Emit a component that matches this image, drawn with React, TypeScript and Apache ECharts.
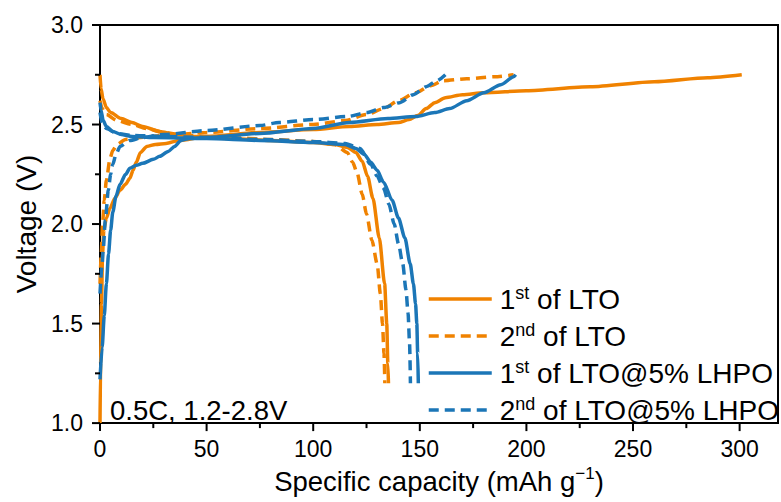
import React, { useEffect, useRef } from "react";
import * as echarts from "echarts";

const FONT = "'Liberation Sans', Arial, sans-serif";
const ORANGE = "#F08200";
const BLUE = "#1B76B7";

const seriesNames = ["1st of LTO", "2nd of LTO", "1st of LTO@5% LHPO", "2nd of LTO@5% LHPO"];
const legendLabels = [
  "1{sup|st} of LTO",
  "2{sup|nd} of LTO",
  "1{sup|st} of LTO@5% LHPO",
  "2{sup|nd} of LTO@5% LHPO",
];

const xMajorTicks = [0, 50, 100, 150, 200, 250, 300];
const xMinorTicks = [25, 75, 125, 175, 225, 275];
const yMajorTicks = [1.0, 1.5, 2.0, 2.5, 3.0];
const yMinorTicks = [1.25, 1.75, 2.25, 2.75];

// 1st cycle LTO
const lto1Discharge = [
  [0, 2.75], [0.5, 2.68], [1.4, 2.63], [3, 2.585], [5, 2.56], [10, 2.53], [15, 2.51], [20, 2.49],
  [28, 2.465], [35, 2.45], [45, 2.44], [60, 2.43], [80, 2.42], [100, 2.41], [110, 2.4], [116, 2.385],
  [120, 2.36], [123, 2.315], [125.5, 2.24], [128, 2.13], [131, 1.93], [133.5, 1.7], [134.5, 1.5],
  [135, 1.3], [135.3, 1.2],
];
const lto1Charge = [
  [0, 1.0], [0.3, 1.3], [0.7, 1.6], [1.2, 1.85], [1.8, 1.97], [3, 2.03], [4.7, 2.08], [7, 2.13],
  [9.4, 2.17], [12, 2.2], [14, 2.23], [15.5, 2.27], [17, 2.31], [19, 2.36], [22, 2.39], [26, 2.4],
  [31, 2.405], [37, 2.42], [50, 2.44], [75, 2.46], [100, 2.475], [117, 2.49], [130, 2.5], [140, 2.51],
  [145, 2.525], [149, 2.545], [153, 2.58], [157, 2.61], [162, 2.635], [170, 2.65], [180, 2.66],
  [200, 2.67], [230, 2.69], [260, 2.715], [285, 2.735], [301, 2.75],
];

// 2nd cycle LTO
const lto2Discharge = [
  [0, 2.62], [1, 2.58], [3, 2.55], [8, 2.52], [15, 2.5], [22, 2.48], [30, 2.46], [40, 2.445],
  [60, 2.435], [80, 2.425], [100, 2.415], [110, 2.4], [116, 2.36], [118.5, 2.31], [120.5, 2.26],
  [123, 2.15], [125, 2.05], [127.5, 1.92], [130, 1.8], [131.5, 1.65], [132.5, 1.5], [133.2, 1.35],
  [133.6, 1.2],
];
const lto2Charge = [
  [0, 1.7], [0.6, 1.85], [1.2, 2.0], [2, 2.12], [3, 2.22], [4.7, 2.33], [6, 2.37], [8, 2.4],
  [12, 2.425], [19, 2.435], [30, 2.445], [50, 2.46], [75, 2.48], [100, 2.5], [115, 2.52], [125, 2.55],
  [133, 2.58], [140, 2.62], [148, 2.66], [155, 2.695], [161, 2.72], [172, 2.73], [185, 2.74], [194, 2.75],
];

// 1st cycle LTO@5% LHPO
const lhpo1Discharge = [
  [0, 2.61], [0.5, 2.57], [1.5, 2.52], [3, 2.49], [6, 2.465], [10, 2.45], [15, 2.44], [25, 2.435],
  [50, 2.43], [75, 2.42], [100, 2.41], [115, 2.4], [120, 2.38], [124, 2.35], [127, 2.31], [130, 2.27],
  [133, 2.21], [137, 2.12], [140, 2.03], [143, 1.93], [145.5, 1.8], [147, 1.7], [148, 1.6],
  [148.6, 1.5], [149, 1.35], [149.3, 1.2],
];
const lhpo1Charge = [
  [0, 1.22], [1, 1.38], [2, 1.54], [3, 1.7], [4, 1.85], [5, 1.97], [6, 2.06], [7.5, 2.14], [9.4, 2.2],
  [12, 2.25], [14, 2.28], [17, 2.295], [20, 2.305], [25, 2.325], [28, 2.34], [32, 2.365], [35, 2.39],
  [38, 2.42], [42, 2.43], [50, 2.435], [75, 2.455], [100, 2.48], [117, 2.51], [135, 2.53], [148, 2.54],
  [157, 2.56], [164, 2.58], [172, 2.62], [180, 2.66], [188, 2.7], [194, 2.74], [195, 2.75],
];

// 2nd cycle LTO@5% LHPO
const lhpo2Discharge = [
  [0, 2.56], [1, 2.51], [3, 2.48], [8, 2.455], [15, 2.445], [30, 2.44], [50, 2.435], [75, 2.425],
  [100, 2.415], [115, 2.405], [122, 2.38], [127, 2.3], [130, 2.24], [133, 2.18], [135.5, 2.1],
  [138, 2.0], [140, 1.9], [142, 1.8], [143.5, 1.67], [144.5, 1.55], [145.2, 1.4], [145.6, 1.2],
];
const lhpo2Charge = [
  [0, 1.65], [1, 1.8], [1.5, 1.87], [2.5, 2.02], [3.9, 2.17], [5, 2.25], [6, 2.3], [7.5, 2.35],
  [9.4, 2.39], [14, 2.42], [20, 2.435], [30, 2.45], [50, 2.47], [75, 2.495], [84, 2.51], [100, 2.525],
  [116, 2.54], [125, 2.56], [133, 2.585], [140.6, 2.61], [147, 2.65], [153, 2.69], [158, 2.72], [162, 2.75],
];

const DASH = [10, 6];

function mk(id: string, name: string, data: number[][], color: string, dashed: boolean) {
  return {
    id, name, type: "line", xAxisIndex: 0, yAxisIndex: 0, data,
    showSymbol: false, symbol: "none", smooth: 0.25, smoothMonotone: "x",
    lineStyle: { color, width: 3.5, type: dashed ? DASH : "solid" },
    itemStyle: { color }, z: 2,
  };
}

export default function App() {
  const ref = useRef<HTMLDivElement>(null);
  useEffect(() => {
    document.body.style.margin = "0";
    const chart = echarts.init(ref.current!, null, { renderer: "svg" });
    const axisLine = { show: true, onZero: false, lineStyle: { color: "#000", width: 2 } };
    const annotation = {
      id: "note", type: "text", left: 110, top: 396,
      style: { text: "0.5C, 1.2-2.8V", fontSize: 27.5, fontFamily: FONT, fill: "#000" }, z: 10,
    };
    chart.setOption({
      animation: false,
      backgroundColor: "#fff",
      textStyle: { fontFamily: FONT },
      grid: { left: 100, top: 25, right: 3, bottom: 74, show: true, borderColor: "#000", borderWidth: 2, backgroundColor: "transparent" },
      xAxis: {
        type: "value", min: 0, max: 318, interval: 50, position: "bottom", axisLine,
        axisTick: { show: false },
        axisLabel: { customValues: xMajorTicks, fontSize: 23, fontFamily: FONT, color: "#000", margin: 14 },
        splitLine: { show: false },
        name: "Specific capacity (mAh g{sup|\u22121})", nameLocation: "middle", nameGap: 40,
        nameTextStyle: {
          fontSize: 27.5, fontFamily: FONT, color: "#000", lineHeight: 32,
          rich: { sup: { fontSize: 17, verticalAlign: "top", lineHeight: 32, fontFamily: FONT, color: "#000" } },
        },
      },
      yAxis: {
        type: "value", min: 1, max: 3, interval: 0.5, axisLine,
        axisTick: { show: false },
        axisLabel: { fontSize: 23, fontFamily: FONT, color: "#000", margin: 17, formatter: (v: number) => v.toFixed(1) },
        splitLine: { show: false },
        name: "Voltage (V)", nameLocation: "middle", nameRotate: 90, nameGap: 58,
        nameTextStyle: { fontSize: 28, fontFamily: FONT, color: "#000" },
      },
      legend: {
        orient: "vertical", left: 422, top: 279, itemWidth: 63, itemHeight: 14, itemGap: 7,
        data: seriesNames, itemStyle: { opacity: 0 }, lineStyle: { width: 3.5 },
        formatter: (name: string) => legendLabels[seriesNames.indexOf(name)],
        textStyle: {
          fontSize: 28, fontFamily: FONT, color: "#000", lineHeight: 30, padding: [0, 0, 0, 3],
          rich: { sup: { fontSize: 18, verticalAlign: "top", lineHeight: 30, fontFamily: FONT, color: "#000" } },
        },
      },
      graphic: [annotation],
      series: [
        mk("lto1d", seriesNames[0], lto1Discharge, ORANGE, false),
        mk("lto1c", seriesNames[0], lto1Charge, ORANGE, false),
        mk("lto2d", seriesNames[1], lto2Discharge, ORANGE, true),
        mk("lto2c", seriesNames[1], lto2Charge, ORANGE, true),
        mk("lhpo1d", seriesNames[2], lhpo1Discharge, BLUE, false),
        mk("lhpo1c", seriesNames[2], lhpo1Charge, BLUE, false),
        mk("lhpo2d", seriesNames[3], lhpo2Discharge, BLUE, true),
        mk("lhpo2c", seriesNames[3], lhpo2Charge, BLUE, true),
      ],
    });

    // Outward axis ticks, positioned through the axes' own scales
    const xPix = (v: number) => chart.convertToPixel({ xAxisIndex: 0 }, v) as number;
    const yPix = (v: number) => chart.convertToPixel({ yAxisIndex: 0 }, v) as number;
    const x0 = xPix(0);
    const yBase = yPix(1);
    const tickStyle = { stroke: "#000", lineWidth: 2 };
    const ticks: any[] = [];
    xMajorTicks.forEach((v, i) => {
      const p = xPix(v);
      ticks.push({ id: "xM" + i, type: "line", shape: { x1: p, y1: yBase, x2: p, y2: yBase + 8 }, style: tickStyle, z: 5 });
    });
    xMinorTicks.forEach((v, i) => {
      const p = xPix(v);
      ticks.push({ id: "xm" + i, type: "line", shape: { x1: p, y1: yBase, x2: p, y2: yBase + 5 }, style: tickStyle, z: 5 });
    });
    yMajorTicks.forEach((v, i) => {
      const p = yPix(v);
      ticks.push({ id: "yM" + i, type: "line", shape: { x1: x0 - 8, y1: p, x2: x0, y2: p }, style: tickStyle, z: 5 });
    });
    yMinorTicks.forEach((v, i) => {
      const p = yPix(v);
      ticks.push({ id: "ym" + i, type: "line", shape: { x1: x0 - 5, y1: p, x2: x0, y2: p }, style: tickStyle, z: 5 });
    });
    chart.setOption({ graphic: [annotation, ...ticks] });

    return () => chart.dispose();
  }, []);
  return <div ref={ref} style={{ width: 781, height: 502 }} />;
}
